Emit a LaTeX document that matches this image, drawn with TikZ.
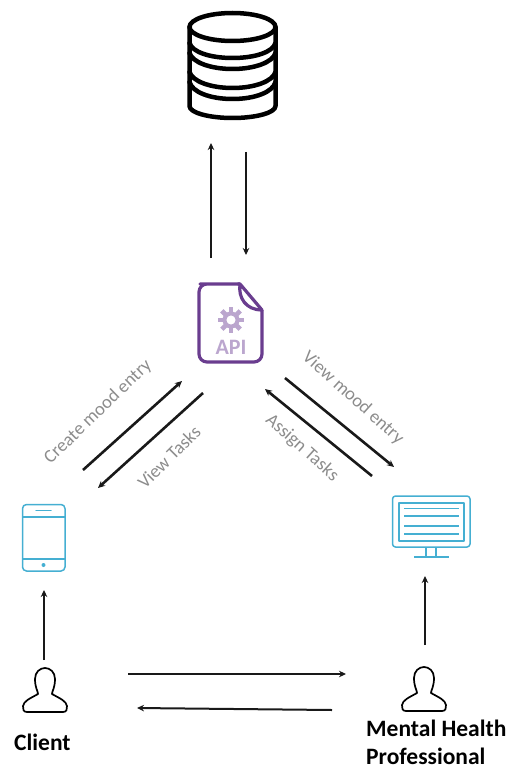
\documentclass[tikz,border=0pt]{standalone}
\usepackage{fontspec}
\setmainfont{Carlito}
\usetikzlibrary{arrows.meta}
\definecolor{apipurple}{HTML}{6A3D8F}
\definecolor{apilight}{HTML}{BBA6CE}
\definecolor{devblue}{HTML}{45AFD2}
\definecolor{lblgray}{HTML}{8C8C8C}
\tikzset{
  flow/.style={draw=black!90,line width=#1,-{Stealth[length=7pt,width=6.5pt]}},
  flow/.default=2.2pt,
  edgelabel/.style={text=lblgray,font=\fontsize{18.5}{22}\selectfont,inner sep=0pt},
  actor/.style={font=\bfseries\fontsize{23.5}{28}\selectfont,inner sep=0pt,align=left},
  dbline/.style={draw=black,line width=4.5pt,line join=round,line cap=round},
  devline/.style={draw=devblue,line width=1.5pt,line join=round},
  personline/.style={draw=black,line width=1.7pt,line join=round}
}
\tikzset{
  personpic/.pic={
    \draw[personline] (-18,44) .. controls (-22,44) and (-22,41) .. (-22,38)
      .. controls (-21,33) and (-16,31) .. (-7,26)
      .. controls (-7,23) and (-10,20) .. (-10,11)
      .. controls (-10,4) and (-5,0) .. (0,0)
      .. controls (5,0) and (10,4) .. (10,11)
      .. controls (10,20) and (7,23) .. (7,26)
      .. controls (16,31) and (21,33) .. (22,38)
      .. controls (22,41) and (22,44) .. (18,44) -- cycle;
  }
}
\begin{document}
\begin{tikzpicture}[x=1pt,y=-1pt]
\useasboundingbox (0,0) rectangle (524,770);

% database
\draw[dbline] (232.5,27) ellipse [x radius=43,y radius=14];
\draw[dbline] (189.5,27) -- (189.5,106) .. controls (189.5,113) and (210,118) .. (232.5,118)
  .. controls (255,118) and (275.5,113) .. (275.5,106) -- (275.5,27);
\draw[dbline] (189.5,43) .. controls (192,52) and (210,58) .. (232.5,58) .. controls (255,58) and (273,52) .. (275.5,43);
\draw[dbline] (189.5,53) .. controls (192,62) and (210,69) .. (232.5,69) .. controls (255,69) and (273,62) .. (275.5,53);
\draw[dbline] (189.5,72) .. controls (192,81) and (210,88) .. (232.5,88) .. controls (255,88) and (273,81) .. (275.5,72);
\draw[dbline] (189.5,82) .. controls (192,92) and (210,99) .. (232.5,99) .. controls (255,99) and (273,92) .. (275.5,82);

% API document
\draw[draw=apipurple,line width=3.2pt,line join=round,rounded corners=8pt]
  (240,284) -- (208,284) -- (199,284) -- (199,362) -- (262,362) -- (262,310);
\draw[draw=apipurple,line width=3.2pt,line join=round,line cap=round]
  (238,284) -- (240,284) -- (262,310) (240,284) .. controls (238,298) and (246,310) .. (262,310);
\draw[draw=apilight,line width=4pt] (231,320) circle (6.5);
\foreach \a in {0,45,...,315}
  \draw[draw=apilight,line width=4.6pt] (231,320) ++(\a:7.5) -- ++(\a:5.5);
\node[text=apilight,font=\bfseries\fontsize{22}{25}\selectfont,inner sep=0pt] (apilabel) at (231,347) {API};

% phone
\draw[devline,rounded corners=4pt] (22.5,504.5) rectangle (65,571);
\draw[devline] (22.5,517) -- (65,517) (22.5,559) -- (65,559);
\draw[devline,line cap=round] (36,510.5) -- (51,510.5);
\fill[devblue] (43.5,565) circle (2);

% monitor
\draw[devline,rounded corners=3pt] (392.5,496) rectangle (470,547);
\draw[devline] (399,503) rectangle (464,541);
\draw[devline] (404,508.5) -- (459,508.5) (404,516) -- (459,516) (404,526) -- (459,526) (404,534) -- (459,534);
\draw[devline] (426,547) -- (426,557) (436,547) -- (436,557) (414,557) -- (449,557);

% people
\pic at (45,668) {personpic};
\pic at (424,667) {personpic};
\node[actor,anchor=west] (client) at (14,742) {Client};
\node[actor,anchor=north west] (mhp) at (366,720) {Mental Health\\Professional};

% connector ends
\coordinate (dbup) at (211,143);      \coordinate (apiup) at (211,258);
\coordinate (dbdown) at (246,152);    \coordinate (apidown) at (246,255);
\coordinate (clientup) at (44,660);   \coordinate (phonein) at (44,590);
\coordinate (mhpup) at (425,645);     \coordinate (monin) at (425,576);
\coordinate (ctom) at (128,674);      \coordinate (ctomend) at (346,674);
\coordinate (mtoc) at (332,710);      \coordinate (mtocend) at (137,708);
\coordinate (phoneout) at (83,470);   \coordinate (apiin) at (182,381);
\coordinate (apiout) at (203,393);    \coordinate (phonein2) at (98,488);
\coordinate (apiout2) at (285,378);   \coordinate (monin2) at (394,467);
\coordinate (monout) at (372,476);    \coordinate (apiin2) at (265,389);

\draw[flow] (apiup) -- (dbup);
\draw[flow=1.7pt] (dbdown) -- (apidown);
\draw[flow] (clientup) -- (phonein);
\draw[flow] (mhpup) -- (monin);
\draw[flow=2pt] (ctom) -- (ctomend);
\draw[flow=2pt] (mtoc) -- (mtocend);
\draw[flow=2.6pt] (phoneout) -- (apiin);
\draw[flow=2.6pt] (apiout) -- (phonein2);
\draw[flow=2.6pt] (apiout2) -- (monin2);
\draw[flow=2.6pt] (monout) -- (apiin2);

\node[edgelabel,rotate=44] (l1) at (98,412) {Create mood entry};
\node[edgelabel,rotate=45] (l2) at (169,457) {View Tasks};
\node[edgelabel,rotate=-42] (l3) at (353,398) {View mood entry};
\node[edgelabel,rotate=-42] (l4) at (302,448) {Assign Tasks};
\end{tikzpicture}
\end{document}
